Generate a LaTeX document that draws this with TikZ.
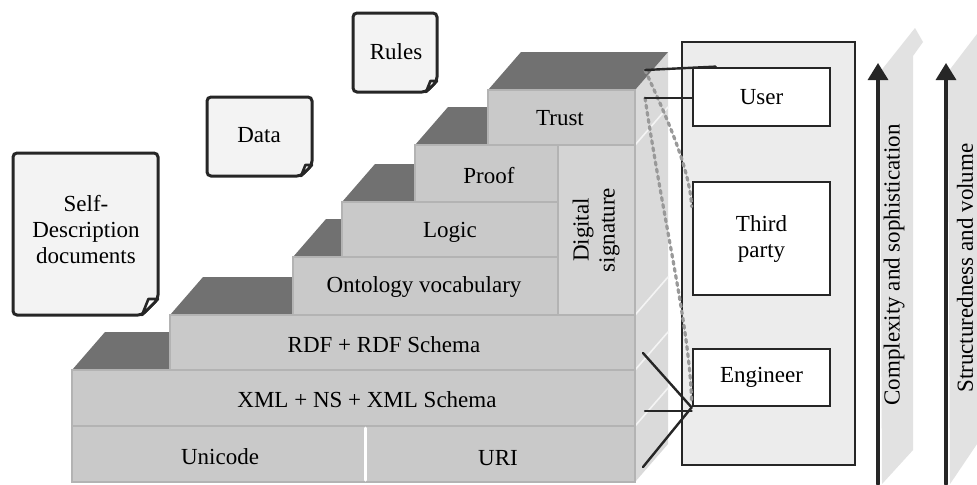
\documentclass[tikz,border=0pt]{standalone}
\usepackage{fontspec}
\setmainfont{Liberation Serif}
\usetikzlibrary{arrows.meta,calc}

\definecolor{faceg}{HTML}{C9C9C9}
\definecolor{topg}{HTML}{717171}
\definecolor{sideg}{HTML}{DADADA}
\definecolor{edgeg}{HTML}{B3B3B3}
\definecolor{panelg}{HTML}{ECECEC}
\definecolor{docg}{HTML}{F3F3F3}
\definecolor{ribbong}{HTML}{E2E2E2}
\definecolor{ink}{HTML}{262626}

% one dark top face of a stair step: x from, x to, y of the front edge
\newcommand\steptop[3]{%
  \fill[topface] (#1,#3) -- ++(33,-38) -- (#2+33,#3-38) -- (#2,#3) -- cycle;}
% a sheet with a curled corner: x1, y1, x2, y2, fold
\newcommand\sheet[5]{%
  \draw[sheetline] (#1,#2) -- (#3,#2) -- (#3,#4-#5) -- (#3-#5,#4) -- (#1,#4) -- cycle;
  \draw[ink,fill=white,line width=1.3pt,line join=round]
    (#3-#5,#4) -- (#3-0.6*#5,#4-#5) -- (#3,#4-#5) -- cycle;}

\begin{document}
\begin{tikzpicture}[
  x=0.5pt,y=-0.5pt,
  line cap=round,
  lbl/.style={font=\fontsize{11.5}{13}\selectfont,inner sep=0pt,align=center},
  topface/.style={fill=topg},
  front/.style={fill=faceg,draw=edgeg,line width=0.8pt},
  sheetline/.style={fill=docg,draw=ink,line width=1.5pt,rounded corners=2pt},
  rolebox/.style={draw=ink,fill=white,line width=1.4pt,minimum width=68.5pt,
    font=\fontsize{11.5}{13}\selectfont,align=center},
  link/.style={ink,line width=1.2pt},
  trace/.style={gray!80,dotted,line width=1.6pt},
  rise/.style={ink,line width=1.6pt,-{Triangle[length=8.5pt,width=10pt]}}
]
\path[use as bounding box,fill=white] (0,0) rectangle (977,484);

% pages
\sheet{13}{153}{158}{315}{16}
\node[lbl] (selfdesc) at (86,230) {Self-\\Description\\documents};
\sheet{207}{97}{312}{176}{11}
\node[lbl] (data) at (259,135) {Data};
\sheet{353}{13}{437}{92}{11}
\node[lbl] (rules) at (396,52) {Rules};

% side of the stack
\fill[sideg] (635,90) -- (668,52) -- (668,444) -- (635,482) -- cycle;
\foreach \yy in {145,315,370,426}
  \draw[white!70!sideg,line width=0.8pt] (635,\yy) -- (668,\yy-38);

% tops of the steps
\steptop{72}{170}{370}
\steptop{170}{293}{315}
\steptop{293}{342}{257}
\steptop{342}{415}{202}
\steptop{415}{488}{145}
\steptop{488}{635}{90}

% fronts of the layers
\draw[front] (488,90) rectangle (635,145);
\draw[front] (415,145) rectangle (558,202);
\draw[front] (342,202) rectangle (558,257);
\draw[front] (293,257) rectangle (558,315);
\draw[front,fill=faceg!80!white] (558,145) rectangle (635,315);
\draw[front] (170,315) rectangle (635,370);
\draw[front] (72,370) rectangle (635,426);
\draw[front] (72,426) rectangle (635,482);
\draw[white,line width=1.5pt] (365,428) -- (365,480);

\node[lbl] (trust) at (560,118) {Trust};
\node[lbl] (proof) at (489,176) {Proof};
\node[lbl] (logic) at (450,232) {Logic};
\node[lbl] (onto) at (424,287) {Ontology vocabulary};
\node[lbl,rotate=90] (digsig) at (596,230) {Digital\\signature};
\node[lbl] (rdf) at (384,345) {RDF + RDF Schema};
\node[lbl] (xml) at (367,400) {XML + NS + XML Schema};
\node[lbl] (unicode) at (220,457) {Unicode};
\node[lbl] (uri) at (498,458) {URI};

% roles
\draw[ink,fill=panelg,line width=1.3pt] (682,42) rectangle (855,465);
\node[rolebox,minimum height=29pt] (user) at (761.5,97) {User};
\node[rolebox,minimum height=56.5pt] (third) at (761.5,238.5) {Third\\party};
\node[rolebox,minimum height=28.5pt] (engineer) at (761.5,377.5) {Engineer};

\coordinate (tA) at (645,70);
\coordinate (tB) at (645,98);
\coordinate (eA) at (643,353);
\coordinate (eB) at (645,411);
\coordinate (eC) at (643,467);

\draw[trace] (tA) .. controls (668,120) and (690,170) .. ($(third.north west)+(0,26)$);
\draw[trace] (tB) .. controls (665,230) and (690,330) .. ($(engineer.south west)+(0,-4)$);
\draw[link] (tA) -- ($(user.north west)+(24,0)$);
\draw[link] (tB) -- (tB -| user.west);
\draw[link] (eA) -- (engineer.south west);
\draw[link] (eB) -- (eB -| engineer.west);
\draw[link] (eC) -- (engineer.south west);

% growth arrows
\fill[ribbong] (880,72) -- (915,28) -- (923,42) -- (913,56) -- (913,450) -- (882,484) -- cycle;
\fill[ribbong] (948,72) -- (977,34) -- (977,444) -- (950,484) -- cycle;
\coordinate (cLow) at (878,484);
\coordinate (cTop) at (878,63);
\coordinate (sLow) at (946,484);
\coordinate (sTop) at (946,63);
\draw[rise] (cLow) -- (cTop);
\draw[rise] (sLow) -- (sTop);
\node[lbl,rotate=90] (cplx) at (894,265) {Complexity and sophistication};
\node[lbl,rotate=90] (strv) at (965,268) {Structuredness and volume};
\end{tikzpicture}
\end{document}
